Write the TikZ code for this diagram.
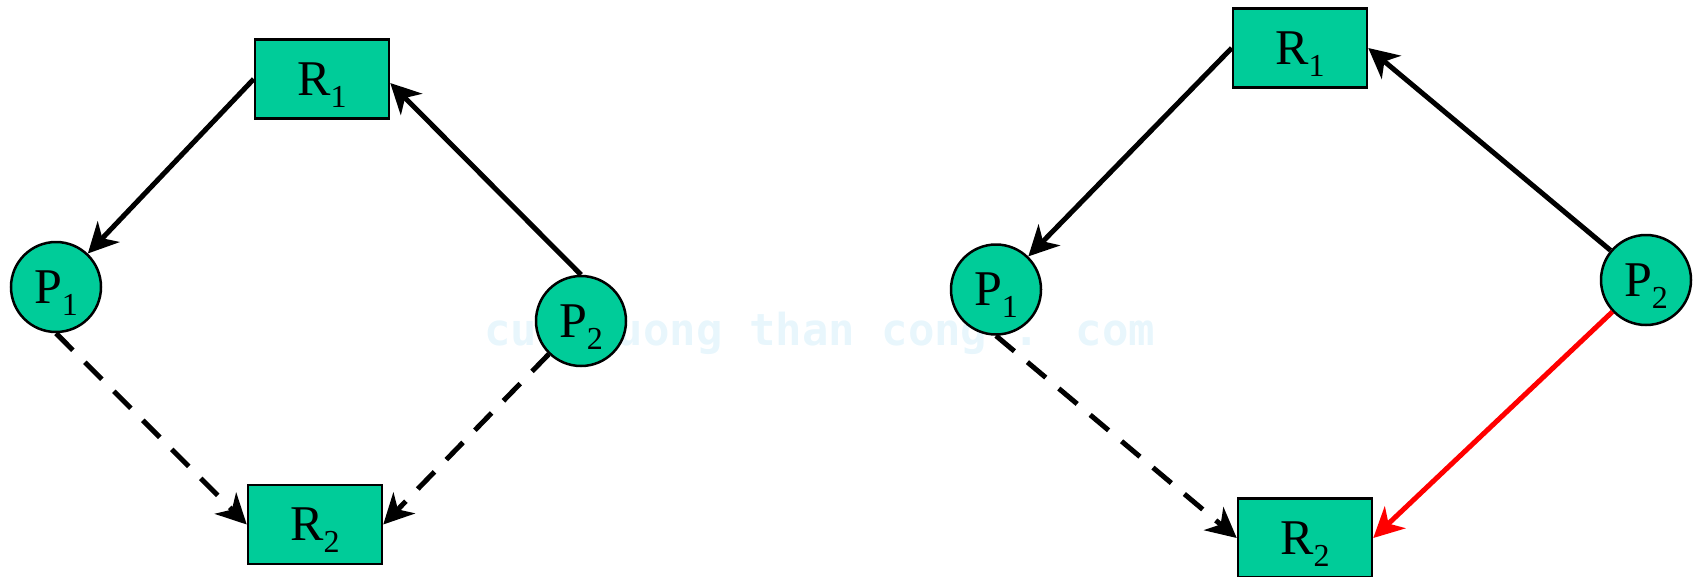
\documentclass[tikz,border=0pt]{standalone}
\usepackage{fontspec}
\setmainfont{Liberation Serif}
\newfontfamily\wmfont{DejaVu Sans Mono}
\usetikzlibrary{arrows.meta,calc}
\definecolor{nodefill}{RGB}{0,204,153}
\definecolor{wmcol}{RGB}{232,246,252}
\definecolor{redline}{RGB}{255,0,0}
\newcommand{\lbl}[2]{#1\smash{\raisebox{-12pt}{\fontsize{32}{32}\selectfont #2}}}
\begin{document}
\begin{tikzpicture}[x=1pt,y=-1pt,
  res/.style={draw=black, line width=2.5pt, fill=nodefill, minimum width=134pt,
    minimum height=79pt, inner sep=0pt, font=\fontsize{50}{54}\selectfont},
  proc/.style={circle, draw=black, line width=2.5pt, fill=nodefill, minimum size=90pt,
    inner sep=0pt, font=\fontsize{50}{54}\selectfont},
  edgeline/.style={line width=5pt, -{Stealth[length=30pt,width=30pt,inset=9pt]}},
  dashedge/.style={edgeline, dash pattern=on 24pt off 17pt},
  redge/.style={edgeline, draw=redline}]
\useasboundingbox (0,0) rectangle (1694,576);
\node[anchor=base west, text=wmcol, inner sep=0pt,
  font=\wmfont\bfseries\fontsize{44}{44}\selectfont] (wm) at (484,345) {cuu duong than cong . com};
% left diagram
\node[res] (LR1) at (322,79) {\lbl{R}{1}};
\node[res] (LR2) at (315,524.5) {\lbl{R}{2}};
\node[proc] (LP1) at (56,287) {\lbl{P}{1}};
\node[proc] (LP2) at (581,321) {\lbl{P}{2}};
\draw[edgeline] (LR1.west) -- (LP1);
\draw[edgeline] (LP2.north) -- ($(LR1.east)+(0,4)$);
\draw[dashedge] (LP1.south) -- (LR2.west);
\draw[dashedge] (LP2) -- (LR2.east);
% right diagram
\node[res] (RR1) at (1300,48) {\lbl{R}{1}};
\node[res] (RR2) at (1305,538) {\lbl{R}{2}};
\node[proc] (RP1) at (996,289.5) {\lbl{P}{1}};
\node[proc] (RP2) at (1646,280) {\lbl{P}{2}};
\draw[edgeline] (RR1.west) -- (RP1);
\draw[edgeline] (RP2) -- (RR1.east);
\draw[dashedge] (RP1.south) -- (RR2.west);
\draw[redge] (RP2) -- (RR2.east);
\end{tikzpicture}
\end{document}
